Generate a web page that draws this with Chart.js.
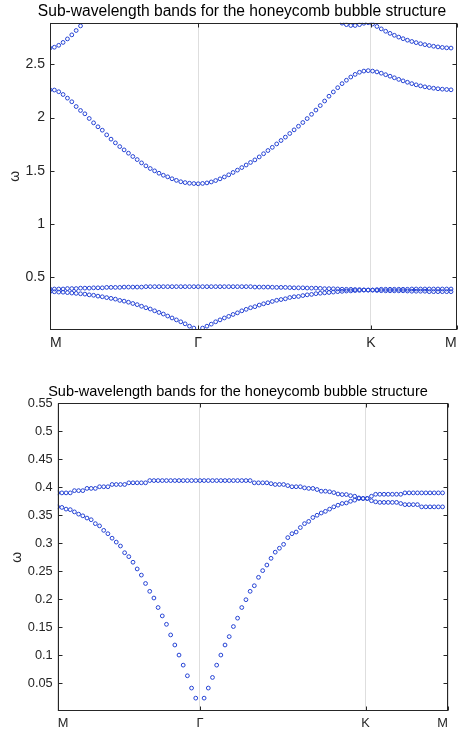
<!DOCTYPE html>
<html>
<head>
<meta charset="utf-8">
<script src="https://cdn.jsdelivr.net/npm/chart.js@4.4.1/dist/chart.umd.min.js"></script>
<style>
  html, body { margin: 0; padding: 0; background: #fff; overflow: hidden; }
  #wrap { position: relative; width: 458px; height: 734px; overflow: hidden; }
  canvas { position: absolute; left: 0; }
</style>
</head>
<body>
<div id="wrap">
  <canvas id="fullChart" width="484" height="360" style="top:0"></canvas>
  <canvas id="zoomChart" width="476" height="372" style="top:362px"></canvas>
</div>
<script>
const titleText = 'Sub-wavelength bands for the honeycomb bubble structure';

// high-symmetry points along the k-path (in sample-index units)
const symLabels = ['M', 'Γ', 'K', 'M'];
const symPos = [0, 34, 73.6, 93.3];

const yTicksFull = [0.5, 1, 1.5, 2, 2.5];
const yTicksZoom = [0.05, 0.1, 0.15, 0.2, 0.25, 0.3, 0.35, 0.4, 0.45, 0.5, 0.55];

// bands, one value per k-sample (null = not visible / not computed)
const band1 = [
  0.365, 0.364, 0.361, 0.360, 0.356, 0.352, 0.349, 0.345, 0.342, 0.335,
  0.331, 0.323, 0.317, 0.309, 0.302, 0.295, 0.283, 0.276, 0.266, 0.254,
  0.243, 0.228, 0.214, 0.202, 0.185, 0.170, 0.155, 0.136, 0.118, 0.100,
  0.082, 0.063, 0.041, 0.023, null, 0.023, 0.041, 0.060, 0.082, 0.100,
  0.118, 0.133, 0.151, 0.166, 0.185, 0.199, 0.214, 0.224, 0.239, 0.251,
  0.261, 0.273, 0.284, 0.291, 0.298, 0.310, 0.317, 0.320, 0.328, 0.335,
  0.339, 0.346, 0.350, 0.354, 0.357, 0.361, 0.365, 0.368, 0.371, 0.372,
  0.375, 0.377, 0.380, 0.380, 0.380, 0.376, 0.374, 0.373, 0.373, 0.373,
  0.373, 0.373, 0.371, 0.369, 0.369, 0.369, 0.369, 0.365, 0.365, 0.365,
  0.365, 0.365, 0.365
];
const band2 = [
  0.390, 0.390, 0.390, 0.390, 0.394, 0.394, 0.394, 0.398, 0.398, 0.398,
  0.401, 0.401, 0.401, 0.405, 0.405, 0.405, 0.405, 0.408, 0.408, 0.408,
  0.408, 0.408, 0.412, 0.412, 0.412, 0.412, 0.412, 0.412, 0.412, 0.412,
  0.412, 0.412, 0.412, 0.412, 0.412, 0.412, 0.412, 0.412, 0.412, 0.412,
  0.412, 0.412, 0.412, 0.412, 0.412, 0.412, 0.412, 0.408, 0.408, 0.408,
  0.408, 0.4065, 0.405, 0.405, 0.405, 0.403, 0.401, 0.401, 0.401, 0.399,
  0.398, 0.398, 0.396, 0.393, 0.393, 0.392, 0.3905, 0.388, 0.387, 0.387,
  0.385, 0.384, 0.381, 0.380, 0.380, 0.384, 0.3875, 0.3875, 0.3875, 0.3875,
  0.3875, 0.3875, 0.3875, 0.390, 0.390, 0.390, 0.390, 0.390, 0.390, 0.390,
  0.390, 0.390, 0.390
];
const band3 = [
  2.260, 2.258, 2.242, 2.216, 2.182, 2.148, 2.103, 2.066, 2.035, 1.991,
  1.950, 1.913, 1.881, 1.837, 1.797, 1.762, 1.727, 1.696, 1.665, 1.634,
  1.605, 1.574, 1.546, 1.521, 1.499, 1.477, 1.458, 1.443, 1.425, 1.410,
  1.397, 1.389, 1.383, 1.380, 1.378, 1.381, 1.386, 1.395, 1.408, 1.424,
  1.442, 1.462, 1.484, 1.506, 1.530, 1.554, 1.578, 1.602, 1.630, 1.660,
  1.690, 1.720, 1.752, 1.784, 1.816, 1.850, 1.884, 1.918, 1.953, 1.990,
  2.030, 2.070, 2.112, 2.155, 2.200, 2.240, 2.280, 2.318, 2.350, 2.380,
  2.405, 2.425, 2.436, 2.440, 2.436, 2.428, 2.416, 2.402, 2.388, 2.373,
  2.358, 2.344, 2.331, 2.318, 2.307, 2.297, 2.288, 2.281, 2.275, 2.270,
  2.266, 2.263, 2.260
];
const band4 = [
  2.652, 2.660, 2.678, 2.705, 2.738, 2.776, 2.817, 2.860, null, null,
  null, null, null, null, null, null, null, null, null, null,
  null, null, null, null, null, null, null, null, null, null,
  null, null, null, null, null, null, null, null, null, null,
  null, null, null, null, null, null, null, null, null, null,
  null, null, null, null, null, null, null, null, null, null,
  null, null, null, null, null, null, null, 2.886, 2.872, 2.864,
  2.864, 2.872, 2.885, 2.890, 2.878, 2.855, 2.832, 2.810, 2.790, 2.772,
  2.755, 2.740, 2.726, 2.714, 2.703, 2.693, 2.684, 2.676, 2.669, 2.663,
  2.658, 2.654, 2.652
];

const fontFamily = '"Liberation Sans", Arial, Helvetica, sans-serif';
const textColor = '#262626';
const markerColor = '#2442d4';

// MATLAB style box with inward ticks on all four sides
const matlabBox = {
  id: 'matlabBox',
  afterDatasetsDraw(chart) {
    const { ctx, chartArea: a, scales: { x, y } } = chart;
    const L = Math.round(a.left) + 0.5, R = Math.round(a.right) - 0.5;
    const T = Math.round(a.top) + 0.5, B = Math.round(a.bottom) - 0.5;
    const len = 4;
    ctx.save();
    ctx.strokeStyle = textColor;
    ctx.lineWidth = 1;
    ctx.strokeRect(L, T, R - L, B - T);
    ctx.beginPath();
    y.ticks.forEach(t => {
      const py = Math.round(y.getPixelForValue(t.value)) + 0.5;
      ctx.moveTo(L, py); ctx.lineTo(L + len, py);
      ctx.moveTo(R, py); ctx.lineTo(R - len, py);
    });
    x.ticks.forEach(t => {
      const px = Math.round(x.getPixelForValue(t.value)) + 0.5;
      ctx.moveTo(px, B); ctx.lineTo(px, B - len);
      ctx.moveTo(px, T); ctx.lineTo(px, T + len);
    });
    ctx.stroke();
    ctx.restore();
  }
};

function makeChart(id, o) {
  const datasets = [band1, band2, band3, band4].map(b => ({
    data: b.map((v, i) => ({ x: i, y: v })).filter(p => p.y !== null),
    showLine: false,
    pointStyle: 'circle',
    pointRadius: 1.9,
    pointBorderWidth: 1,
    borderColor: markerColor,
    backgroundColor: 'rgba(0,0,0,0)'
  }));

  return new Chart(document.getElementById(id), {
    type: 'scatter',
    data: { datasets },
    options: {
      responsive: false,
      animation: false,
      events: [],
      layout: { padding: 0 },
      plugins: {
        legend: { display: false },
        tooltip: { enabled: false },
        title: {
          display: true,
          text: titleText,
          color: '#000',
          font: { family: fontFamily, size: o.titleSize, weight: 'normal' },
          padding: o.titlePad
        }
      },
      scales: {
        x: {
          type: 'linear',
          min: 0,
          max: symPos[3],
          afterBuildTicks: s => { s.ticks = symPos.map(v => ({ value: v })); },
          afterFit: s => { s.height = o.xAxisH; },
          ticks: {
            align: 'inner',
            autoSkip: false,
            maxRotation: 0,
            padding: 5,
            color: textColor,
            font: { family: fontFamily, size: o.tickSize },
            callback: (v, i) => symLabels[i]
          },
          grid: { color: '#dedede', drawTicks: false },
          border: { display: false }
        },
        y: {
          type: 'linear',
          min: o.yMin,
          max: o.yMax,
          afterBuildTicks: s => { s.ticks = o.yTicks.map(v => ({ value: v })); },
          afterFit: s => { s.width = o.yAxisW; },
          ticks: {
            padding: 5,
            color: textColor,
            font: { family: fontFamily, size: o.tickSize },
            callback: v => String(v)
          },
          grid: { display: false, drawTicks: false },
          border: { display: false },
          title: {
            display: true,
            text: 'ω',
            color: textColor,
            font: { family: fontFamily, size: 14 },
            padding: { top: o.yTitlePad, bottom: 0 }
          }
        },
        // empty spacer on the right so the title centres where the reference has it
        yRight: {
          type: 'linear',
          axis: 'y',
          position: 'right',
          min: o.yMin,
          max: o.yMax,
          afterFit: s => { s.width = o.rightW; },
          ticks: { display: false },
          grid: { display: false, drawTicks: false },
          border: { display: false }
        }
      }
    },
    plugins: [matlabBox]
  });
}

makeChart('fullChart', {
  yMin: 0.005, yMax: 2.89, yTicks: yTicksFull,
  rightW: 27.3, yAxisW: 50, xAxisH: 30,
  titleSize: 15.6, titlePad: { top: 2, bottom: 2 },
  tickSize: 14, yTitlePad: 7
});

makeChart('zoomChart', {
  yMin: 0, yMax: 0.55, yTicks: yTicksZoom,
  rightW: 28, yAxisW: 57.7, xAxisH: 23,
  titleSize: 14.5, titlePad: { top: 21, bottom: 3 },
  tickSize: 12.8, yTitlePad: 9
});
</script>
</body>
</html>
